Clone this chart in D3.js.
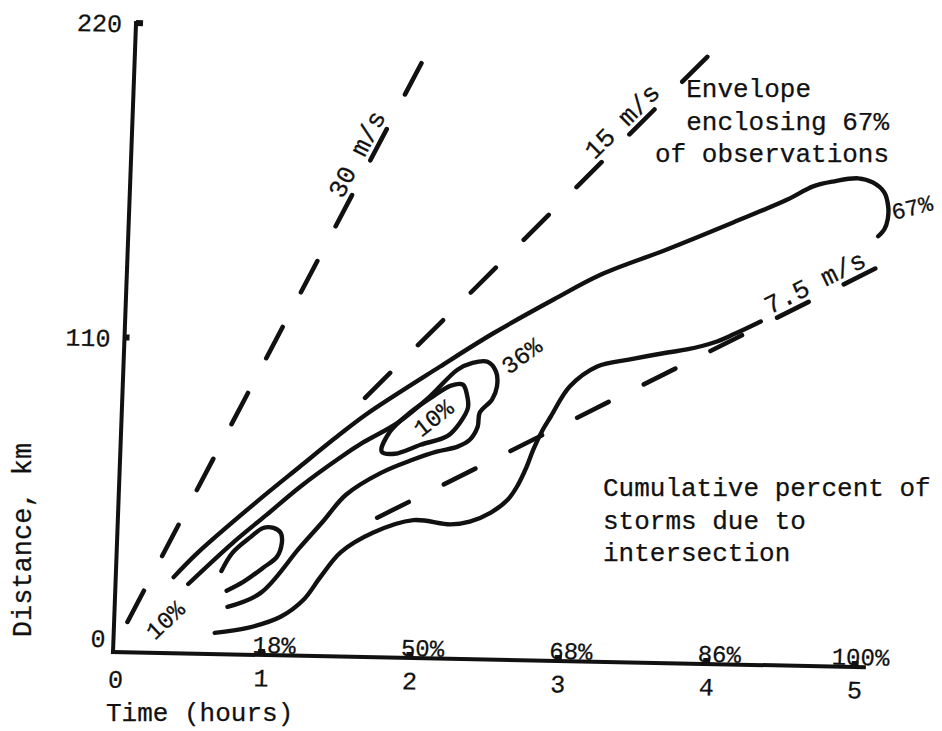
<!DOCTYPE html>
<html><head><meta charset="utf-8">
<script src="https://cdn.jsdelivr.net/npm/d3@7"></script>
<style>
html,body{margin:0;padding:0;background:#fff;}
svg{display:block;background:#fff;}
text{font-family:"Liberation Mono","Courier New",monospace;fill:#111;stroke:#111;stroke-width:0.25px;}
</style></head><body>
<svg id="chart" width="942" height="731"></svg>
<script>
// ---- data (time in hours, distance in km) ----
const xTicks = [0, 1, 2, 3, 4, 5];
const yTicks = [0, 110, 220];
const cumHours = [1, 2, 3, 4, 5];
const cumLabels = ["18%", "50%", "68%", "86%", "100%"];

const speedNames = ["30 m/s", "15 m/s", "7.5 m/s"];
const speedStart = [[0.09, 10.6], [1.635, 90.6], [1.746, 48.8]];
const speedEnd = [[1.96, 211], [3.895, 214.4], [5.093, 140.9]];
const speedLabelAt = [[1.608, 173.5], [3.368, 185.6], [4.681, 129.6]];

const envelopeUpper = [[0.39,26.6],[0.54,35],[0.93,53.5],[1.21,66],[1.47,77.5],[1.65,85],[2.13,102],[2.48,114],[2.88,126.3],[3.19,135.3],[3.63,144.6],[4.07,154.5],[4.43,162.9],[4.60,167.7],[4.74,169.6],[4.90,170.8],[5.00,169.5],[5.08,166.1],[5.11,161.2],[5.11,156.7],[5.09,153.2],[5.05,150.7]];
const envelopeLower = [[0.68,7.4],[0.90,9.4],[1.12,13.5],[1.27,19.6],[1.38,27.8],[1.51,36.5],[1.72,43.5],[1.99,48.2],[2.24,47.0],[2.37,48.1],[2.51,51.4],[2.62,56.0],[2.68,60.7],[2.74,67.7],[2.78,73.7],[2.84,80.8],[2.89,85.4],[3.01,96],[3.19,103.2],[3.41,105.9],[3.66,108.6],[3.79,109.8],[3.97,112.4],[4.10,115.4],[4.28,120.1]];
const contour36 = [[0.49,24.3],[0.78,39],[1.00,49],[1.22,59.1],[1.48,69.5],[1.63,74.9],[1.86,82.1],[2.07,91.5],[2.25,101.1],[2.35,103.6],[2.45,104.1],[2.51,100.7],[2.52,95.5],[2.49,90.9],[2.41,86.2],[2.40,81.3],[2.35,76.7],[2.27,74.2],[2.13,72.3],[1.97,69.3],[1.76,64.5],[1.53,56.6],[1.38,47],[1.23,37.7],[0.98,21.7],[0.76,16.6]];
const contour10Left = [[0.71,29.1],[0.78,35.5],[0.90,41.2],[0.98,44.4],[1.05,44.5],[1.10,42.8],[1.11,39.3],[1.08,34.4],[0.99,30.5],[0.86,25.4],[0.75,22.2]];
const contour10Inner = [[1.76,71.9],[1.81,78.9],[1.94,85.7],[2.09,91.5],[2.21,95.5],[2.29,95.9],[2.32,92.4],[2.33,87.9],[2.28,82.6],[2.20,77.9],[2.02,74.6],[1.85,71.3]];

const contourLabels = ["10%", "10%", "36%", "67%"];
const contourLabelAt = [[0.342, 11.6], [2.098, 84.1], [2.677, 106.5], [5.27, 161.1]];
const contourLabelAngle = [-45, -40, -38, -15];

const noteEnvelope = ["  Envelope", "  enclosing 67%", "of observations"];
const noteCumulative = ["Cumulative percent of", "storms due to", "intersection"];

// ---- drawing ----
const svg = d3.select("#chart");
const x = d3.scaleLinear().domain([0, 5]).range([0, 742]);
const y = d3.scaleLinear().domain([0, 220]).range([0, -629]);
// slight skew like the scanned original
const g = svg.append("g").attr("transform", "matrix(1,0.0202,-0.0366,1,113,652)");

const ink = "#111";
// axes lines
g.append("line").attr("x1", x(0)).attr("y1", y(0)).attr("x2", x(5.06)).attr("y2", y(0))
  .attr("stroke", ink).attr("stroke-width", 4).attr("stroke-linecap", "square");
g.append("line").attr("x1", x(0)).attr("y1", y(0)).attr("x2", x(0)).attr("y2", y(220))
  .attr("stroke", ink).attr("stroke-width", 4).attr("stroke-linecap", "square");
// tick nubs
g.selectAll("rect.xt").data(cumHours).join("rect").attr("class", "xt")
  .attr("x", d => x(d) - 3.5).attr("y", -6).attr("width", 7).attr("height", 7).attr("fill", ink);
g.selectAll("rect.yt").data([110, 220]).join("rect").attr("class", "yt")
  .attr("x", x(0)).attr("y", d => y(d) - 3).attr("width", d => d === 220 ? 7 : 5).attr("height", 6).attr("fill", ink);

// axis labels through d3 axes
const ax = g.append("g").call(d3.axisBottom(x).tickValues(xTicks).tickSize(0).tickPadding(16).tickFormat(d3.format("d")));
ax.select(".domain").remove();
ax.selectAll("text").attr("font-family", null).attr("font-size", 25).attr("dy", "0.62em")
  .attr("transform", d => d === 0 ? "translate(3,4)" : null);
ax.attr("font-family", null).attr("font-size", null);

const ay = g.append("g").call(d3.axisLeft(y).tickValues(yTicks).tickSize(0).tickPadding(14).tickFormat(d3.format("d")));
ay.select(".domain").remove();
ay.selectAll("text").attr("font-family", null).attr("font-size", 25).attr("dy", "0.35em")
  .attr("transform", d => d === 0 ? "translate(6,-14)" : null);
ay.attr("font-family", null).attr("font-size", null);

// cumulative percent labels on the time axis
g.selectAll("text.cum").data(cumHours).join("text").attr("class", "cum")
  .attr("x", d => x(d) + 34).attr("y", -2).attr("text-anchor", "end").attr("font-size", 24)
  .text((d, i) => cumLabels[i]);

// speed reference lines
speedNames.forEach((name, i) => {
  const [t0, d0] = speedStart[i], [t1, d1] = speedEnd[i];
  g.append("line").attr("x1", x(t0)).attr("y1", y(d0)).attr("x2", x(t1)).attr("y2", y(d1))
    .attr("stroke", ink).attr("stroke-width", 4.6).attr("stroke-linecap", "round")
    .attr("stroke-dasharray", "35 39");
  const ang = Math.atan2(y(d1) - y(d0), x(t1) - x(t0)) * 180 / Math.PI;
  const [lt, ld] = speedLabelAt[i];
  g.append("text").attr("transform", `translate(${x(lt)},${y(ld)}) rotate(${ang})`)
    .attr("text-anchor", "middle").attr("dy", -6).attr("font-size", 26).text(name);
});

// contours
const lineOpen = d3.line().x(d => x(d[0])).y(d => y(d[1])).curve(d3.curveCatmullRom.alpha(0.5));
const lineClosed = d3.line().x(d => x(d[0])).y(d => y(d[1])).curve(d3.curveCatmullRomClosed.alpha(0.5));
[envelopeUpper, envelopeLower, contour36, contour10Left].forEach(c => {
  g.append("path").attr("d", lineOpen(c)).attr("fill", "none").attr("stroke", ink)
    .attr("stroke-width", 4.4).attr("stroke-linecap", "round").attr("stroke-linejoin", "round");
});
g.append("path").attr("d", lineClosed(contour10Inner)).attr("fill", "none").attr("stroke", ink)
  .attr("stroke-width", 4.4).attr("stroke-linejoin", "round");

// contour labels
contourLabels.forEach((lab, i) => {
  const [t, d] = contourLabelAt[i];
  g.append("text").attr("transform", `translate(${x(t)},${y(d)}) rotate(${contourLabelAngle[i]})`)
    .attr("text-anchor", "middle").attr("dy", "0.35em").attr("font-size", i === 3 ? 23 : 24).text(lab);
});

// axis titles
svg.append("text").attr("x", 106).attr("y", 721).attr("font-size", 26).text("Time (hours)");
svg.append("text").attr("transform", "translate(31,540) rotate(-90)").attr("text-anchor", "middle")
  .attr("font-size", 27).text("Distance, km");

// annotations
svg.append("g").selectAll("text").data(noteEnvelope).join("text")
  .attr("x", 655).attr("y", (d, i) => 97 + i * 32.5).attr("font-size", 26)
  .attr("xml:space", "preserve").style("white-space", "pre").text(d => d);
svg.append("g").selectAll("text").data(noteCumulative).join("text")
  .attr("x", 603).attr("y", (d, i) => 496 + i * 32.5).attr("font-size", 26).text(d => d);
</script>
</body></html>
